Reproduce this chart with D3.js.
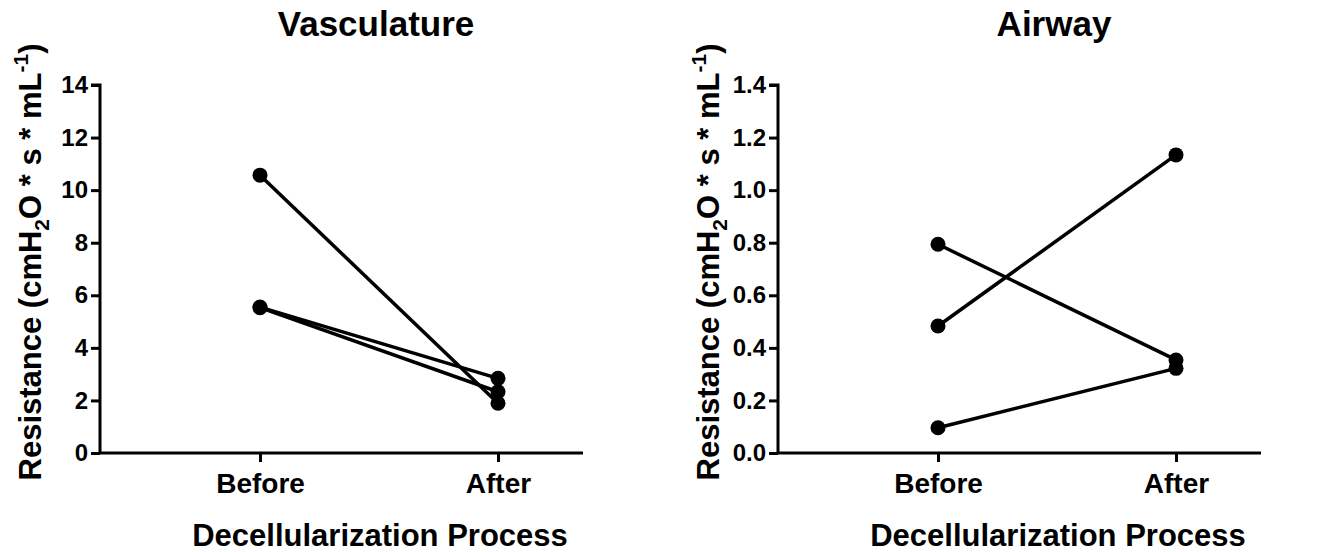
<!DOCTYPE html>
<html>
<head>
<meta charset="utf-8">
<script src="https://cdn.jsdelivr.net/npm/d3@7"></script>
<style>
  body { margin: 0; background: #fff; }
  text { font-family: "Liberation Sans", Arial, sans-serif; font-weight: bold; fill: #000; }
</style>
</head>
<body>
<div id="chart"></div>
<script>
// Datos
const categories = ["Before", "After"];

const vascTitle = "Vasculature";
const vascTicks = [0, 2, 4, 6, 8, 10, 12, 14];
const vascBefore = [10.57, 5.55, 5.53];
const vascAfter = [1.89, 2.84, 2.33];

const airTitle = "Airway";
const airTicks = [0, 0.2, 0.4, 0.6, 0.8, 1.0, 1.2, 1.4];
const airBefore = [0.794, 0.483, 0.096];
const airAfter = [0.354, 1.134, 0.322];

const width = 1337;
const height = 552;

const svg = d3.select("div#chart").append("svg")
  .attr("width", width)
  .attr("height", height);

// Pinta un panel
const paintPanel = (opts) => {
  const { left, title, ticks, before, after, fmt } = opts;
  const top = 85, bottom = 453, axisW = 483;

  const g = svg.append("g");

  const x = d3.scalePoint().domain(categories).range([left + 160, left + 398]);
  const y = d3.scaleLinear().domain([0, d3.max(ticks)]).range([bottom, top]);

  // Eje Y
  const yAxis = d3.axisLeft(y).tickValues(ticks).tickFormat(fmt).tickSize(9).tickPadding(3);
  const yg = g.append("g").attr("transform", `translate(${left},0)`).call(yAxis);
  yg.select(".domain").attr("stroke-width", 3).attr("d", `M-9,${top}H0V${bottom}`);
  yg.selectAll(".tick line").attr("stroke-width", 3);
  yg.selectAll(".tick text").style("font-size", "24px");

  // Eje X
  const xAxis = d3.axisBottom(x).tickSize(9).tickPadding(11);
  const xg = g.append("g").attr("transform", `translate(0,${bottom})`).call(xAxis);
  xg.select(".domain").attr("stroke-width", 3).attr("d", `M${left},0H${left + axisW}`);
  xg.selectAll(".tick line").attr("stroke-width", 3);
  xg.selectAll(".tick text").style("font-size", "28px");

  // Líneas y puntos
  const pairs = before.map((b, i) => [b, after[i]]);
  g.selectAll("line.pair").data(pairs).join("line")
    .attr("class", "pair")
    .attr("x1", x(categories[0])).attr("y1", (d) => y(d[0]))
    .attr("x2", x(categories[1])).attr("y2", (d) => y(d[1]))
    .attr("stroke", "#000").attr("stroke-width", 3.5);

  const pts = pairs.flatMap((d) => [[categories[0], d[0]], [categories[1], d[1]]]);
  g.selectAll("circle").data(pts).join("circle")
    .attr("cx", (d) => x(d[0])).attr("cy", (d) => y(d[1]))
    .attr("r", 7.5).attr("fill", "#000");

  // Títulos
  g.append("text").attr("x", left + 276).attr("y", 36)
    .attr("text-anchor", "middle").style("font-size", "35px").text(title);

  g.append("text").attr("x", left + 280).attr("y", 546)
    .attr("text-anchor", "middle").style("font-size", "31px")
    .text("Decellularization Process");

  const yl = g.append("text")
    .attr("transform", `translate(${left - 59},${262}) rotate(-90)`)
    .attr("text-anchor", "middle").style("font-size", "31px");
  yl.append("tspan").text("Resistance (cmH");
  yl.append("tspan").attr("dy", 8).style("font-size", "21px").text("2");
  yl.append("tspan").attr("dy", -8).text("O * s * mL");
  yl.append("tspan").attr("dy", -13).style("font-size", "21px").text("-1");
  yl.append("tspan").attr("dy", 13).text(")");
};

paintPanel({ left: 100, title: vascTitle, ticks: vascTicks, before: vascBefore, after: vascAfter, fmt: d3.format("d") });
paintPanel({ left: 778, title: airTitle, ticks: airTicks, before: airBefore, after: airAfter, fmt: d3.format(".1f") });
</script>
</body>
</html>
